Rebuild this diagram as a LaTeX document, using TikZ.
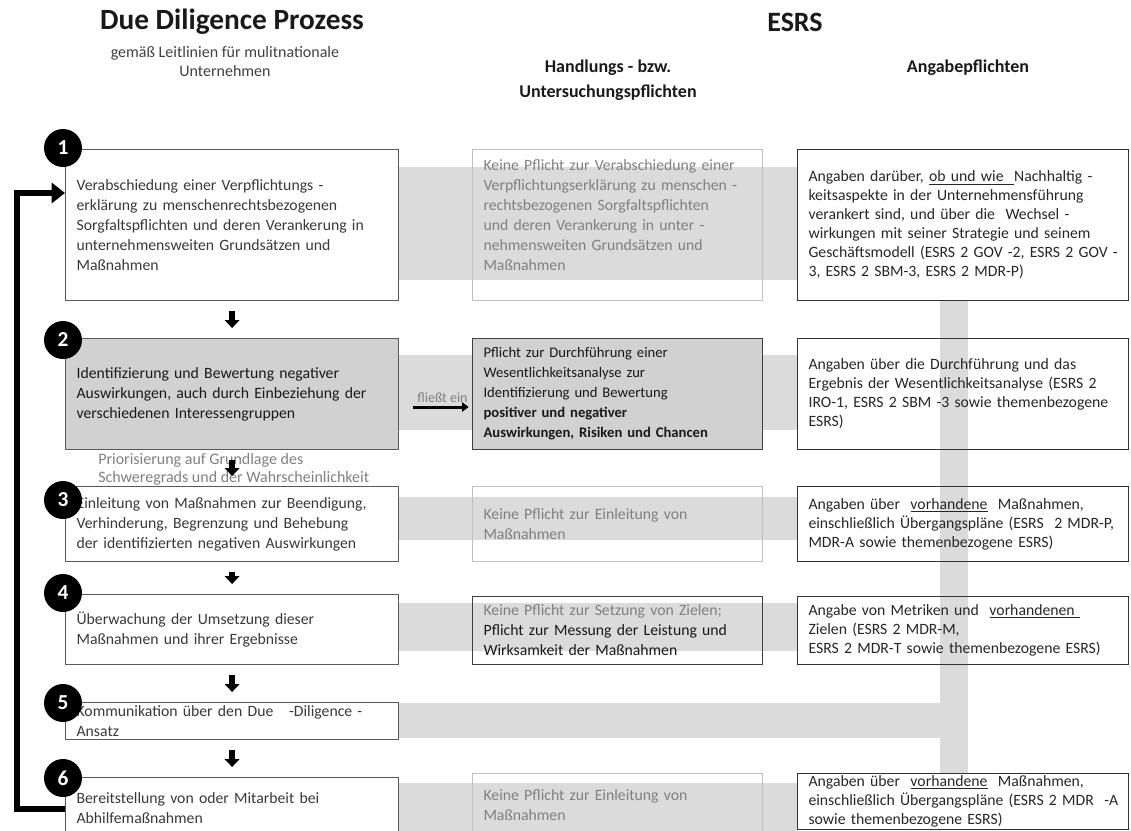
\documentclass[tikz,border=0pt]{standalone}
\usepackage{fontspec}
\setmainfont{Carlito}
\usetikzlibrary{arrows.meta,backgrounds}

\tikzset{
  box/.style={draw, anchor=north west, align=left, inner xsep=8.25pt, inner ysep=2pt, font=\fontsize{11.8}{15}\selectfont},
  ddbox/.style={box, draw=black!65, line width=0.9pt, text=black!78, minimum width=249.75pt, text width=233.25pt},
  dutybox/.style={box, line width=0.8pt, minimum width=217.5pt, text width=201pt},
  dutylight/.style={dutybox, draw=black!25, text=black!50},
  dutydark/.style={dutybox, draw=black!75, text=black!90},
  discbox/.style={box, draw=black!80, line width=0.8pt, text=black!85, minimum width=248.25pt, text width=231.75pt, font=\fontsize{11.8}{14.25}\selectfont},
  shaded/.style={fill=black!18, text=black!90},
  band/.style={fill=black!14},
  numdot/.style={circle, fill=black, text=white, minimum size=28.5pt, inner sep=0pt, font=\fontsize{16}{16}\selectfont\bfseries},
  flowdown/.style={line width=4pt, -{Triangle[length=6pt,width=11pt]}, shorten <=7pt, shorten >=7.5pt},
  feedin/.style={line width=2.25pt, -{Triangle[length=5pt,width=7pt]}, shorten >=2.5pt},
  loopback/.style={line width=5pt, line join=miter, -{Triangle[length=10pt,width=15pt]}},
  heading/.style={font=\fontsize{22}{26}\selectfont\bfseries, text=black!90},
  colhead/.style={font=\fontsize{13.5}{18.75}\selectfont\bfseries, align=center, text=black!90},
  note/.style={text=black!50}
}

\begin{document}
\begin{tikzpicture}[x=0.75pt, y=-0.75pt]
\useasboundingbox (0,0) rectangle (1131,831);

\node[heading] (ddtitle) at (232,22) {Due Diligence Prozess};
\node[font=\fontsize{12}{14.25}\selectfont, align=center, text=black!75] (ddsub) at (225,61.5) {gemäß Leitlinien für mulitnationale\\Unternehmen};
\node[heading, font=\fontsize{21}{26}\selectfont\bfseries] (esrs) at (795,22) {ESRS};
\node[colhead] (duties) at (608,80.5) {Handlungs - bzw.\\Untersuchungspflichten};
\node[colhead] (disclosure) at (968,68) {Angabepflichten};

\node[ddbox, minimum height=113.25pt] (dd1) at (65,149) {Verabschiedung einer Verpflichtungs -\\erklärung zu menschenrechtsbezogenen\\Sorgfaltspflichten und deren Verankerung in\\unternehmensweiten Grundsätzen und\\Maßnahmen};
\node[ddbox, shaded, minimum height=83.25pt] (dd2) at (65,338) {Identifizierung und Bewertung negativer\\Auswirkungen, auch durch Einbeziehung der\\verschiedenen Interessengruppen};
\node[ddbox, minimum height=56.25pt] (dd3) at (65,486) {Einleitung von Maßnahmen zur Beendigung,\\Verhinderung, Begrenzung und Behebung\\der identifizierten negativen Auswirkungen};
\node[ddbox, minimum height=52.5pt] (dd4) at (65,594) {Überwachung der Umsetzung dieser\\Maßnahmen und ihrer Ergebnisse};
\node[ddbox, minimum height=27.75pt, inner ysep=0pt] (dd5) at (65,702) {Kommunikation über den Due\ \ \ -Diligence -\\Ansatz};
\node[ddbox, minimum height=45pt] (dd6) at (65,777) {Bereitstellung von oder Mitarbeit bei\\Abhilfemaßnahmen};

\node[dutylight, minimum height=113.25pt] (duty1) at (472,149) {Keine Pflicht zur Verabschiedung einer\\Verpflichtungserklärung zu menschen -\\rechtsbezogenen Sorgfaltspflichten\\und deren Verankerung in unter -\\nehmensweiten Grundsätzen und\\Maßnahmen\\\mbox{}};
\node[dutydark, shaded, minimum height=83.25pt, font=\fontsize{11}{15}\selectfont] (duty2) at (472,338) {Pflicht zur Durchführung einer\\Wesentlichkeitsanalyse zur\\Identifizierung und Bewertung\\\textbf{positiver und negativer}\\\textbf{Auswirkungen, Risiken und Chancen}};
\node[dutylight, minimum height=56.25pt] (duty3) at (472,486) {Keine Pflicht zur Einleitung von\\Maßnahmen};
\node[dutydark, minimum height=51pt] (duty4) at (472,596) {\textcolor{black!50}{Keine Pflicht zur Setzung von Zielen;}\\Pflicht zur Messung der Leistung und\\Wirksamkeit der Maßnahmen};
\node[dutylight, minimum height=48pt] (duty6) at (472,773) {Keine Pflicht zur Einleitung von\\Maßnahmen};

\node[discbox, minimum height=113.25pt] (disc1) at (797,149) {Angaben darüber,\ \underline{ob und wie\ \ }Nachhaltig -\\keitsaspekte in der Unternehmensführung\\verankert sind, und über die\ \ Wechsel -\\wirkungen mit seiner Strategie und seinem\\\mbox{Geschäftsmodell (ESRS 2 GOV\ -2, ESRS 2 GOV -}\\3, ESRS 2 SBM-3, ESRS 2 MDR-P)};
\node[discbox, minimum height=83.25pt] (disc2) at (797,338) {Angaben über die Durchführung und das\\Ergebnis der Wesentlichkeitsanalyse (ESRS 2\\\mbox{IRO-1, ESRS 2 SBM -3 sowie themenbezogene}\\ESRS)};
\node[discbox, minimum height=56.25pt] (disc3) at (797,486) {Angaben über\ \ \underline{vorhandene}\ \ Maßnahmen,\\\mbox{einschließlich Übergangspläne (ESRS\ \ 2 MDR-P,}\\MDR-A sowie themenbezogene ESRS)};
\node[discbox, minimum height=51pt] (disc4) at (797,596) {Angabe von Metriken und\ \ \underline{vorhandenen\ }\\Zielen (ESRS 2 MDR-M,\\\mbox{ESRS 2 MDR-T sowie themenbezogene ESRS)}};
\node[discbox, inner ysep=1.5pt] (disc6) at (797,773) {Angaben über\ \ \underline{vorhandene}\ \ Maßnahmen,\\\mbox{einschließlich Übergangspläne (ESRS 2 MDR\ \ -A}\\sowie themenbezogene ESRS)};

\begin{scope}[on background layer]
\fill[band] (dd1.east |- 0,167) rectangle (disc1.west |- 0,280);
\fill[band] (dd2.east |- 0,355) rectangle (disc2.west |- 0,430);
\fill[band] (dd3.east |- 0,497) rectangle (disc3.west |- 0,540);
\fill[band] (dd4.east |- 0,603) rectangle (disc4.west |- 0,651);
\fill[band] (dd5.east |- 0,703) rectangle (968,738);
\fill[band] (dd6.east |- 0,783) rectangle (disc6.west |- 0,840);
\fill[band] (disc1.south -| 940,0) rectangle (disc6.north -| 968,0);
\end{scope}

\node[numdot] (n1) at (63,148) {1};
\node[numdot] (n2) at (63,340) {2};
\node[numdot] (n3) at (63,500) {3};
\node[numdot] (n4) at (63,593) {4};
\node[numdot] (n5) at (63,703) {5};
\node[numdot] (n6) at (63,778) {6};

\node[note, align=left, anchor=west, inner sep=0pt, font=\fontsize{12}{13.5}\selectfont] (prio) at (98,469) {Priorisierung auf Grundlage des\\Schweregrads und der Wahrscheinlichkeit};

\draw[flowdown] (dd1) -- (dd2);
\draw[flowdown] (dd2) -- (dd3);
\draw[flowdown] (dd3) -- (dd4);
\draw[flowdown] (dd4) -- (dd5);
\draw[flowdown] (dd5) -- (dd6);

\coordinate (feedfrom) at (413,407);
\draw[feedin] (feedfrom) -- (feedfrom -| duty2.west) node[midway, above=-1pt, note, font=\fontsize{10.5}{11}\selectfont] (feedlabel) {fließt ein};

\coordinate (looptop) at (17,193);
\coordinate (loopbot) at (17,809);
\draw[loopback] (dd6.west |- loopbot) -- (loopbot) -- (looptop) -- (dd1.west |- looptop);
\end{tikzpicture}
\end{document}
